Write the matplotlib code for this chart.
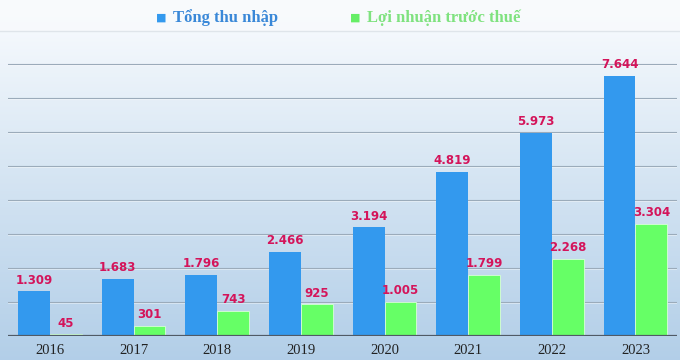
import numpy as np
from matplotlib import pyplot as plt

# data
years = ["2016", "2017", "2018", "2019", "2020", "2021", "2022", "2023"]
tong_thu_nhap = [1309, 1683, 1796, 2466, 3194, 4819, 5973, 7644]
loi_nhuan = [45, 301, 743, 925, 1005, 1799, 2268, 3304]


def vn_fmt(v):
    # thousands separator is a dot
    return "{:,}".format(v).replace(",", ".")


fig = plt.figure(figsize=(6.8, 3.6), dpi=100)

# background gradient, white at top to light blue at bottom
bg = fig.add_axes([0, 0, 1, 1], zorder=-10)
grad = np.linspace(0, 1, 256).reshape(-1, 1)
top = np.array([0.99, 0.995, 1.0])
bottom = np.array([0.70, 0.81, 0.91])
img = top + (bottom - top) * grad[:, :, None] ** 0.9
bg.imshow(img, aspect="auto", extent=[0, 1, 0, 1])
bg.axhspan(0.915, 1.0, color="#f8fafc", alpha=0.9)
bg.axhline(0.915, color="#dfe5ea", lw=1)
bg.set_xlim(0, 1)
bg.set_ylim(0, 1)
bg.axis("off")

ax = fig.add_axes([0.012, 0.067, 0.984, 0.85])
ax.patch.set_alpha(0)

x = np.arange(len(years))
w = 0.38
ax.bar(x - w / 2, tong_thu_nhap, w, color="#3399ee", zorder=3)
ax.bar(x + w / 2, loi_nhuan, w, color="#66ff66", edgecolor="#d8ffd8", lw=0.6, zorder=3)

for i in range(len(years)):
    ax.text(x[i] - w / 2, tong_thu_nhap[i] + 140, vn_fmt(tong_thu_nhap[i]), ha="center", va="bottom",
            fontsize=8.5, fontweight="bold", color="#d4145a", zorder=4)
    ax.text(x[i] + w / 2, loi_nhuan[i] + 140, vn_fmt(loi_nhuan[i]), ha="center", va="bottom",
            fontsize=8.5, fontweight="bold", color="#d4145a", zorder=4)

ax.set_xlim(-0.5, len(years) - 0.5)
ax.set_ylim(0, 9000)

# embossed gridlines
for g in range(1000, 9000, 1000):
    ax.axhline(g, color="#9babba", lw=0.8, zorder=1)
    ax.axhline(g - 30, color="#ffffff", lw=0.6, alpha=0.5, zorder=1)
ax.axhline(0, color="#505a66", lw=1.6, zorder=5)

ax.set_xticks(x)
ax.set_xticklabels(years, family="Liberation Serif", fontsize=10.5, color="#222222")
ax.tick_params(axis="x", length=0, pad=6)
ax.set_yticks([])
for s in ax.spines.values():
    s.set_visible(False)

# legend drawn as text at the top
fig.text(0.230, 0.952, "\u25a0", color="#3399ee", fontsize=8, ha="left", va="center")
fig.text(0.254, 0.950, "Tổng thu nhập", color="#3a88d8", fontsize=12, fontweight="bold",
         family="Liberation Serif", ha="left", va="center")
fig.text(0.515, 0.952, "\u25a0", color="#66ee66", fontsize=8, ha="left", va="center")
fig.text(0.539, 0.950, "Lợi nhuận trước thuế", color="#7fe27f", fontsize=12, fontweight="bold",
         family="Liberation Serif", ha="left", va="center")

fig.savefig("out.png", dpi=100)
